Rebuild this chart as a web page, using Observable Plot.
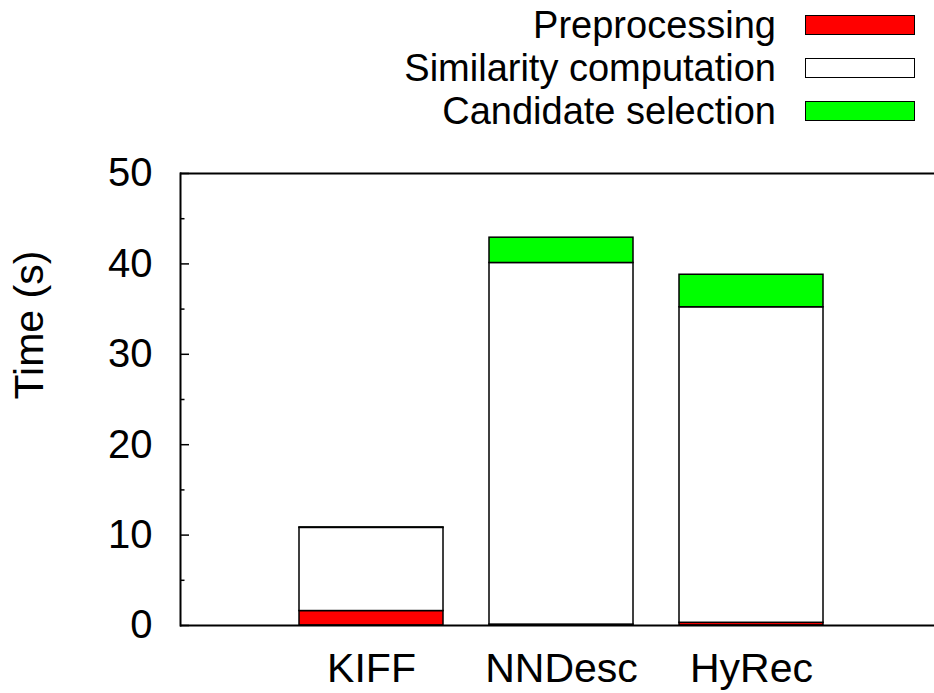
<!DOCTYPE html>
<html>
<head>
<meta charset="utf-8">
<script src="https://cdn.jsdelivr.net/npm/d3@7"></script>
<script src="https://cdn.jsdelivr.net/npm/@observablehq/plot@0.6"></script>
<style>
  html, body { margin: 0; padding: 0; background: #fff; }
  body { width: 934px; height: 693px; overflow: hidden; font-family: "Liberation Sans", Arial, Helvetica, sans-serif; }
  #legend { position: relative; width: 934px; height: 135px; }
  .row { position: absolute; left: 0; width: 776px; height: 43px; line-height: 43px; text-align: right; font-size: 38px; color: #000; white-space: nowrap; }
  .sw { position: absolute; left: 805px; width: 108px; height: 18px; border: 1.5px solid #000; }
  #chart svg { display: block; }
</style>
</head>
<body>
<div id="legend"></div>
<div id="chart"></div>
<script>
const categories = ["KIFF", "NNDesc", "HyRec"];
const seriesNames = ["Preprocessing", "Similarity computation", "Candidate selection"];
const seriesColors = ["#ff0000", "#ffffff", "#00ff00"];
const preprocessing = [1.6, 0.1, 0.3];
const similarity = [9.2, 40.0, 34.9];
const candidate = [0.05, 2.8, 3.6];
const yMajorTicks = [0, 10, 20, 30, 40, 50];
const yMinorTicks = [5, 15, 25, 35, 45];
const yLabel = "Time (s)";

const seriesValues = [preprocessing, similarity, candidate];
const data = [];
categories.forEach((c, i) => {
  seriesNames.forEach((s, j) => data.push({category: c, series: s, value: seriesValues[j][i]}));
});

// legend (HTML, above the SVG)
const legend = document.getElementById("legend");
seriesNames.forEach((s, j) => {
  const top = 4 + j * 43;
  const row = document.createElement("div");
  row.className = "row";
  row.style.top = top + "px";
  row.textContent = s;
  legend.appendChild(row);
  const sw = document.createElement("div");
  sw.className = "sw";
  sw.style.top = (top + 11) + "px";
  sw.style.background = seriesColors[j];
  legend.appendChild(sw);
});

const font = "'Liberation Sans', Arial, Helvetica, sans-serif";
const chart = Plot.plot({
  width: 934,
  height: 558,
  marginTop: 38,
  marginBottom: 68,
  marginLeft: 180,
  marginRight: 0,
  style: {fontFamily: font, fontSize: "42px", color: "#000", background: "#fff", overflow: "visible"},
  x: {domain: categories, paddingInner: 0.244, paddingOuter: 0.6, align: 0.515},
  y: {domain: [0, 50]},
  color: {domain: seriesNames, range: seriesColors},
  marks: [
    Plot.barY(data, {x: "category", y: "value", fill: "series", stroke: "#000", strokeWidth: 1.5}),
    Plot.ruleY([0, 50], {stroke: "#000", strokeWidth: 2}),
    Plot.frame({anchor: "left", stroke: "#000", strokeWidth: 2}),
    Plot.axisY(yMajorTicks, {tickSize: -9, tickPadding: 37, fontSize: 40, label: null, strokeWidth: 1.5}),
    Plot.axisY(yMinorTicks, {tickSize: -4.5, tickFormat: () => "", label: null, strokeWidth: 1.5}),
    Plot.axisX({tickSize: 0, tickPadding: 27, fontSize: 41, label: null}),
    Plot.text([yLabel], {frameAnchor: "left", dx: -151, rotate: -90, fontSize: 41, fill: "#000"})
  ]
});
document.getElementById("chart").appendChild(chart);
</script>
</body>
</html>
